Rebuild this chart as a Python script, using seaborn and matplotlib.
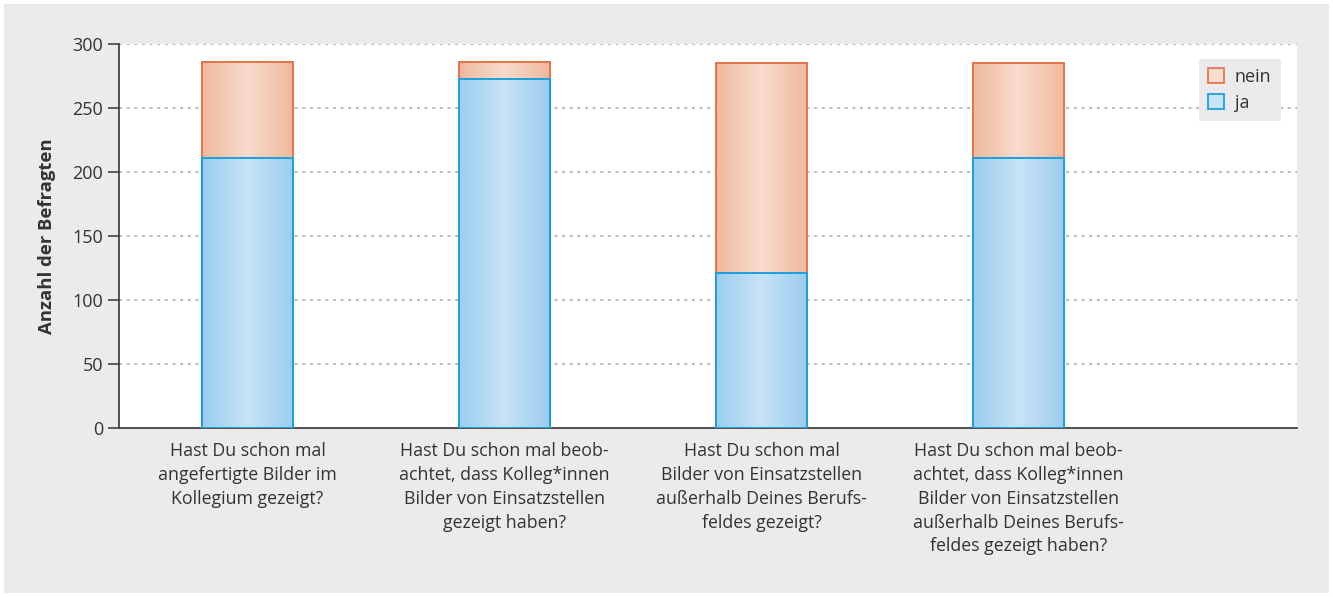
import numpy as np
import pandas as pd
import matplotlib
matplotlib.use("Agg")
import matplotlib.pyplot as plt
import seaborn as sns
from matplotlib.patches import Patch, Rectangle
from matplotlib.colors import to_rgb

categories = [
    "Hast Du schon mal\nangefertigte Bilder im\nKollegium gezeigt?",
    "Hast Du schon mal beob-\nachtet, dass Kolleg*innen\nBilder von Einsatzstellen\ngezeigt haben?",
    "Hast Du schon mal\nBilder von Einsatzstellen\naußerhalb Deines Berufs-\nfeldes gezeigt?",
    "Hast Du schon mal beob-\nachtet, dass Kolleg*innen\nBilder von Einsatzstellen\naußerhalb Deines Berufs-\nfeldes gezeigt haben?",
]
ja = [211, 273, 121, 211]
nein = [75, 13, 164, 74]
y_ticks = [0, 50, 100, 150, 200, 250, 300]

sns.set_theme(style="white")
plt.rcParams["font.family"] = ["Open Sans", "DejaVu Sans"]

BG = "#ebebed"
TXT = "#333333"
blue_edge, blue_out, blue_in = "#1d9fe0", "#9bcdee", "#c8e3f6"
or_edge, or_out, or_in = "#e8734b", "#f0b99d", "#f8dccd"

fig = plt.figure(figsize=(13.33, 5.97), dpi=100, facecolor="white")
fig.patches.append(Rectangle((4 / 1333, 4 / 597), 1325 / 1333, 589 / 597,
                             transform=fig.transFigure, facecolor=BG,
                             edgecolor="none", zorder=-10))
ax = fig.add_axes([119 / 1333, (597 - 428) / 597, 1178 / 1333, 384 / 597])
ax.set_facecolor("white")

df = pd.DataFrame({"cat": categories, "ja": ja, "nein": nein})
df["total"] = df["ja"] + df["nein"]

width = 91 / 257

sns.barplot(data=df, x="cat", y="total", ax=ax, width=width, facecolor="none",
            edgecolor=or_edge, linewidth=1.4, zorder=3)
n_total = len(ax.patches)
sns.barplot(data=df, x="cat", y="ja", ax=ax, width=width, facecolor="none",
            edgecolor=blue_edge, linewidth=1.4, zorder=5)


def gradient(c_out, c_in, n=256):
    t = np.linspace(0, 1, n)
    w = 1 - np.abs(2 * t - 1)
    a = np.array(to_rgb(c_out))
    b = np.array(to_rgb(c_in))
    img = a[None, :] * (1 - w[:, None]) + b[None, :] * w[:, None]
    return img[None, :, :]


for i, p in enumerate(ax.patches):
    x0, y0 = p.get_x(), p.get_y()
    w, h = p.get_width(), p.get_height()
    if i < n_total:
        img, z = gradient(or_out, or_in), 2.5
    else:
        img, z = gradient(blue_out, blue_in), 4.5
    ax.imshow(img, extent=(x0, x0 + w, y0, y0 + h), aspect="auto",
              zorder=z, interpolation="bilinear")

ax.set_xlim(-0.5, 4.084)
ax.set_ylim(0, 300)
ax.set_yticks(y_ticks)
ax.set_yticklabels([str(v) for v in y_ticks])
ax.yaxis.grid(True, linestyle=(0, (2, 3)), color="#a8a8a8", linewidth=1.1, zorder=0)
ax.set_axisbelow(True)

ax.set_xticks(range(len(categories)))
ax.set_xticklabels(categories, linespacing=1.42)
ax.set_xticks([-0.5, 0.5, 1.5, 2.5, 3.5], minor=True)
ax.tick_params(axis="x", which="major", length=0, pad=10, labelsize=12.8, labelcolor=TXT)
ax.tick_params(axis="x", which="minor", length=8, width=1.2, color="#444444", direction="out")
ax.tick_params(axis="y", length=8, width=1.2, color="#444444", direction="out",
               labelsize=13, labelcolor=TXT, left=True)

for s in ["top", "right"]:
    ax.spines[s].set_visible(False)
for s in ["left", "bottom"]:
    ax.spines[s].set_color("#444444")
    ax.spines[s].set_linewidth(1.3)

ax.set_xlabel("")
ax.set_ylabel("Anzahl der Befragten", fontsize=13.3, fontweight="bold", color=TXT, labelpad=12)

handles = [Patch(facecolor=or_in, edgecolor=or_edge, linewidth=1.3, label="nein"),
           Patch(facecolor=blue_in, edgecolor=blue_edge, linewidth=1.3, label="ja")]
leg = ax.legend(handles=handles, loc="upper right", bbox_to_anchor=(0.986, 0.961),
                frameon=True, fancybox=False, facecolor=BG, edgecolor="none",
                framealpha=1, fontsize=13, handlelength=0.9, handleheight=0.9,
                handletextpad=0.6, borderpad=0.5, labelspacing=0.42, borderaxespad=0)
for t in leg.get_texts():
    t.set_color(TXT)

fig.savefig("out.png", dpi=100, facecolor="white")
